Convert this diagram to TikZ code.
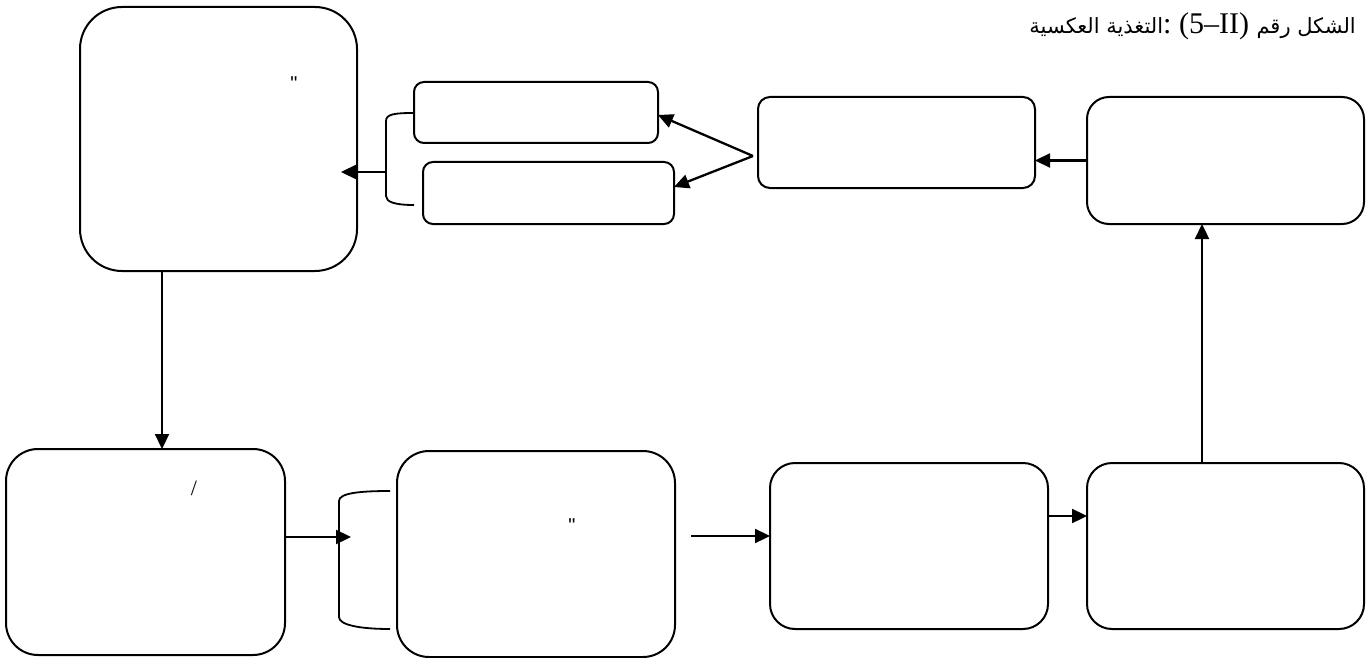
\documentclass[tikz,border=0pt]{standalone}
\usepackage{fontspec}
\setmainfont{Liberation Serif}
\newfontfamily\arabicfont[Script=Arabic]{DejaVu Sans}
\newfontfamily\sansf{Liberation Sans}
\TeXXeTstate=1
\usetikzlibrary{arrows.meta}
\begin{document}
\begin{tikzpicture}[x=1pt,y=-1pt,
  box/.style={draw, line width=2pt, rectangle, inner sep=0pt, outer sep=0pt},
  arr/.style={line width=2.3pt, -{Triangle[length=15pt,width=14pt]}},
  bracket/.style={line width=1.8pt},
  glyph/.style={inner sep=0pt}
]
\useasboundingbox (0,0) rectangle (1371,658);
% boxes
\node[box, rounded corners=42pt, minimum width=277pt, minimum height=264pt] (A) at (218.5,139) {};
\node[box, rounded corners=10pt, minimum width=244pt, minimum height=61pt] (B1) at (536,112.5) {};
\node[box, rounded corners=10pt, minimum width=251pt, minimum height=62pt] (B2) at (548.5,193) {};
\node[box, rounded corners=12pt, minimum width=277pt, minimum height=91pt] (C) at (896.5,142.5) {};
\node[box, rounded corners=22pt, minimum width=277pt, minimum height=127pt] (D) at (1225.5,160.5) {};
\node[box, rounded corners=32pt, minimum width=279pt, minimum height=206pt] (E) at (145.5,552) {};
\node[box, rounded corners=32pt, minimum width=278pt, minimum height=206pt] (F) at (536,554) {};
\node[box, rounded corners=25pt, minimum width=278pt, minimum height=166pt] (G) at (909,546) {};
\node[box, rounded corners=25pt, minimum width=277pt, minimum height=166pt] (H) at (1225.5,546) {};
% small marks
\node[glyph] (qa) at (294,84) {\sansf\fontsize{20}{20}\selectfont "};
\node[glyph] (qf) at (572,526) {\sansf\fontsize{20}{20}\selectfont "};
\node[glyph] (se) at (194,488) {\fontsize{22}{22}\selectfont /};
% title
\node[anchor=base east, inner sep=0pt] (title) at (1356,34)
  {{\arabicfont\fontsize{21}{24}\selectfont\beginR التغذية العكسية\endR}{\fontsize{30}{32}\selectfont :~(5–II)~}{\arabicfont\fontsize{21}{24}\selectfont\beginR الشكل رقم\endR}};
% brackets
\coordinate (b1s) at (386,172);
\coordinate (b1t) at (341,172);
\draw[bracket] (414,113) .. controls (395,113) and (386,114) .. (386,121) -- (386,196) .. controls (386,202) and (395,205) .. (414,205);
\coordinate (b2t) at (351,537);
\draw[bracket] (390,491) .. controls (360,491) and (339,493) .. (339,501) -- (339,617) .. controls (339,625) and (360,629) .. (390,629);
\coordinate (cp) at (753,156);
\coordinate (fs) at (691,536);
% connectors
\draw[arr] (cp) -- ([yshift=-2.5pt]B1.east);
\draw[arr] (cp) -- ([yshift=6pt]B2.east);
\draw[arr] (D.west) -- (D.west -| C.east);
\draw[arr] ([xshift=-23.5pt]H.north) -- ([xshift=-23.5pt]H.north |- D.south);
\draw[arr] ([yshift=30pt]G.east) -- ([yshift=30pt]G.east -| H.west);
\draw[arr] (fs) -- (fs -| G.west);
\draw[arr] (b2t -| E.east) -- (b2t);
\draw[arr] (b1s) -- (b1t);
\draw[arr] ([xshift=-56.5pt]A.south) -- ([xshift=-56.5pt]A.south |- E.north);
\end{tikzpicture}
\end{document}
